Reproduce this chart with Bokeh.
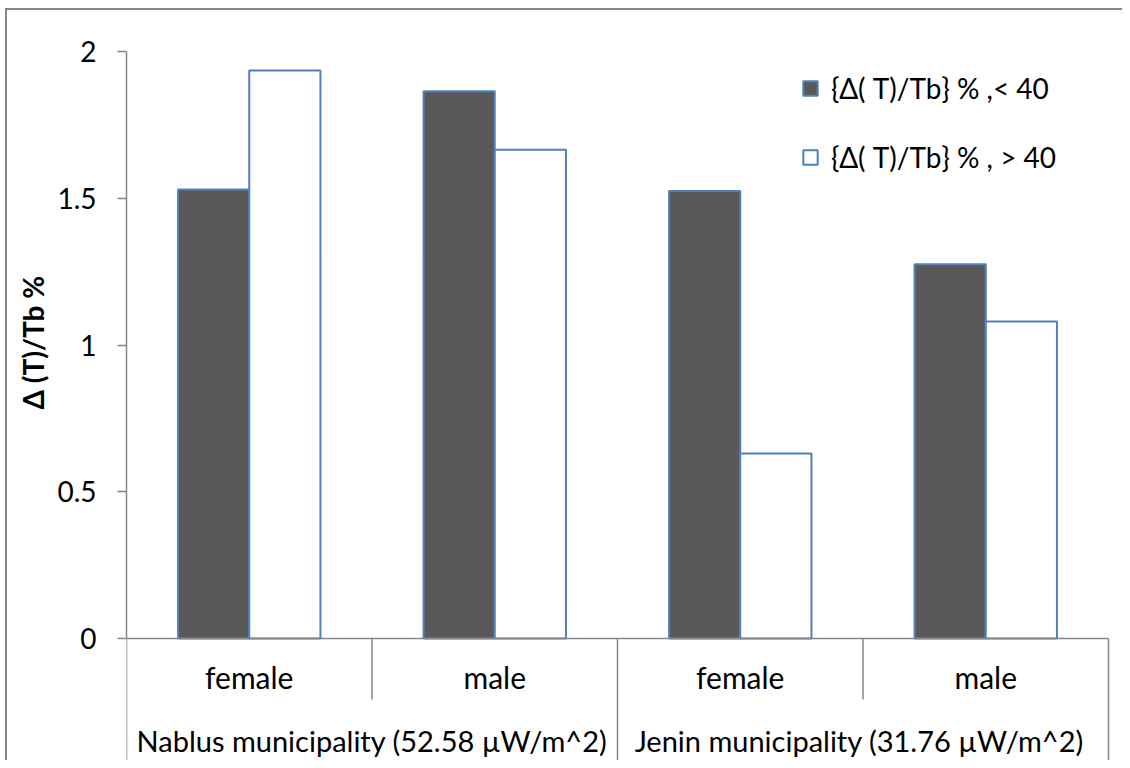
from bokeh.plotting import figure
from bokeh.models import Range1d, FixedTicker, Legend, LegendItem, Title
from bokeh.core.properties import value
from bokeh.embed import file_html
from bokeh.resources import INLINE

# ---- data ----
categories = ["female", "male", "female", "male"]
groups = ["Nablus municipality (52.58 \u00b5W/m^2)", "Jenin municipality  (31.76 \u00b5W/m^2)"]
series_names = ["{\u0394( T)/Tb} % ,< 40", "{\u0394( T)/Tb} % , > 40"]
below_40 = [1.53, 1.865, 1.525, 1.275]
above_40 = [1.935, 1.665, 0.63, 1.08]
y_ticks = [0, 0.5, 1, 1.5, 2]
y_tick_labels = ["0", "0.5", "1", "1.5", "2"]
y_title = "\u0394 (T)/Tb %"

FONT = "Lato"
GRAY = "#868686"
BLUE = "#4F81BD"
DARK = "#595959"

W, H = 1122, 760
p = figure(width=W, height=H, output_backend="svg", toolbar_location=None,
           x_range=Range1d(0, 4.057), y_range=Range1d(-0.4157, 2.1738),
           x_axis_location=None, min_border_left=126, min_border_right=0,
           min_border_top=0, min_border_bottom=0)
p.grid.visible = False
p.outline_line_color = None
p.background_fill_color = None
p.border_fill_color = None
p.styles = {"background-color": "white",
            "box-shadow": "inset 5px 8px 0 0 white, inset 7px 10px 0 0 " + GRAY}

n = len(categories)
centers = [i + 0.5 for i in range(n)]
bw = 0.29
off = 0.145
r1 = p.vbar(x=[c - off for c in centers], top=below_40, bottom=0, width=bw,
            fill_color=DARK, line_color=BLUE, line_width=2)
r2 = p.vbar(x=[c + off for c in centers], top=above_40, bottom=0, width=bw,
            fill_color="white", line_color=BLUE, line_width=2)

# x axis line and category separators
p.segment(x0=[0], y0=[0], x1=[n], y1=[0], line_color=GRAY, line_width=1.5)
inner = [1, 3]
outer = [0, 2, 4]
p.segment(x0=inner, y0=[0] * len(inner), x1=inner, y1=[-0.208] * len(inner),
          line_color=GRAY, line_width=1.5)
ybot = p.y_range.start
p.segment(x0=outer, y0=[0] * len(outer), x1=outer, y1=[ybot] * len(outer),
          line_color=GRAY, line_width=1.5)

# category labels
p.text(x=centers, y=[-0.1325] * n, text=categories, text_align="center",
       text_baseline="alphabetic", text_font=value(FONT), text_font_size="30px",
       text_color="black")
p.text(x=[1, 3], y=[-0.3475] * 2, text=groups, text_align="center",
       text_baseline="alphabetic", text_font=value(FONT), text_font_size="29px",
       text_color="black")

# y axis
ax = p.yaxis[0]
ax.ticker = FixedTicker(ticks=y_ticks)
ax.major_label_overrides = {t: l for t, l in zip(y_ticks, y_tick_labels)}
ax.bounds = (0, 2)
ax.axis_line_color = GRAY
ax.axis_line_width = 1.5
ax.major_tick_line_color = GRAY
ax.major_tick_line_width = 1.5
ax.major_tick_out = 9
ax.major_tick_in = 0
ax.minor_tick_out = 0
ax.minor_tick_in = 0
ax.major_label_standoff = 21
ax.major_label_text_font = FONT
ax.major_label_text_font_size = "28px"
ax.major_label_text_color = "black"

ytitle = Title(text=y_title, align="left", offset=351, standoff=10,
               text_font=FONT, text_font_style="bold", text_font_size="28px",
               text_color="black")
p.add_layout(ytitle, "left")

legend = Legend(items=[LegendItem(label=series_names[0], renderers=[r1]),
                       LegendItem(label=series_names[1], renderers=[r2])],
                location=(675, 586), orientation="vertical",
                glyph_width=18, glyph_height=18, label_standoff=12,
                label_height=34,
                label_text_font=FONT, label_text_font_size="28px",
                label_text_color="black", spacing=35, padding=0, margin=0,
                border_line_color=None, background_fill_alpha=0)
p.add_layout(legend)

open("out.html", "w").write(file_html(p, INLINE))
